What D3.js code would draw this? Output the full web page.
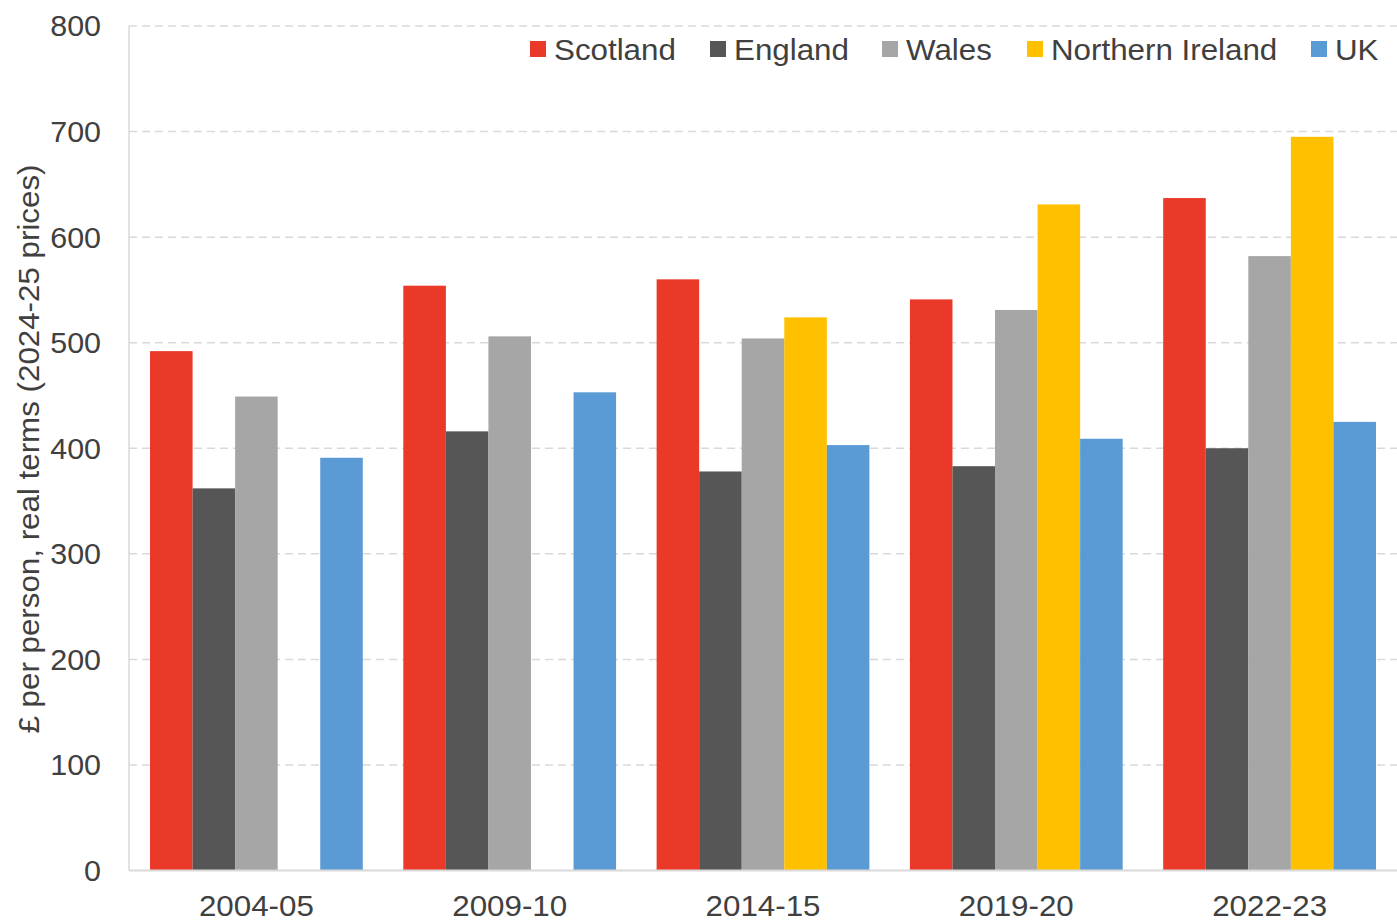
<!DOCTYPE html>
<html><head><meta charset="utf-8">
<script src="https://cdn.jsdelivr.net/npm/d3@7"></script>
<style>body{margin:0;background:#fff}text{font-family:"Liberation Sans",Arial,sans-serif}</style>
</head><body><svg id="c" width="1397" height="922"></svg>
<script>
const categories = ["2004-05","2009-10","2014-15","2019-20","2022-23"];
const seriesNames = ["Scotland","England","Wales","Northern Ireland","UK"];
const seriesColors = ["#EA3829","#565656","#A6A6A6","#FFC000","#5B9BD5"];
const scotland = [492,554,560,541,637];
const england = [362,416,378,383,400];
const wales = [449,506,504,531,582];
const northernIreland = [null,null,524,631,695];
const uk = [391,453,403,409,425];
const yTicks = [0,100,200,300,400,500,600,700,800];
const yTitle = "£ per person, real terms (2024-25 prices)";

const values = [scotland, england, wales, northernIreland, uk];
const svg = d3.select("#c");
const L = 129, R = 1397, T = 26, B = 870.5;
const FS = 29, SX = 1.08;
const x = d3.scaleBand().domain(categories).range([L, R]).paddingInner(0.16).paddingOuter(0.083);
const xs = d3.scaleBand().domain(seriesNames).range([0, x.bandwidth()]);
const y = d3.scaleLinear().domain([0, 800]).range([B, T]);

svg.append("g").selectAll("line").data(yTicks.filter(d => d > 0)).join("line")
  .attr("x1", L).attr("x2", R).attr("y1", d => y(d)).attr("y2", d => y(d))
  .attr("stroke", "#D9D9D9").attr("stroke-width", 1.5).attr("stroke-dasharray", "8,5");

const data = [];
categories.forEach((c, i) => seriesNames.forEach((s, j) => {
  const v = values[j][i];
  if (v != null) data.push({c, s, v, color: seriesColors[j]});
}));
svg.append("g").selectAll("rect").data(data).join("rect")
  .attr("x", d => x(d.c) + xs(d.s)).attr("width", xs.bandwidth())
  .attr("y", d => y(d.v)).attr("height", d => B - y(d.v))
  .attr("fill", d => d.color);

svg.append("line").attr("x1", L).attr("x2", L).attr("y1", T).attr("y2", B).attr("stroke", "#D9D9D9").attr("stroke-width", 1.5);
svg.append("line").attr("x1", L).attr("x2", R).attr("y1", B).attr("y2", B).attr("stroke", "#D9D9D9").attr("stroke-width", 2);

const yAxis = d3.axisLeft(y).tickValues(yTicks).tickSize(0).tickPadding(0);
const gy = svg.append("g").attr("transform", `translate(101,0)`).call(yAxis);
gy.select(".domain").remove();
gy.selectAll("text").attr("font-size", FS).attr("fill", "#404040").attr("x", 0).attr("dy", "0.34em")
  .attr("font-family", "Liberation Sans, Arial, sans-serif").attr("transform", "scale(1.05,1)");

const xAxis = d3.axisBottom(x).tickSize(0).tickPadding(0);
const gx = svg.append("g").attr("transform", `translate(0,916)`).call(xAxis);
gx.select(".domain").remove();
gx.selectAll("text").attr("font-size", FS).attr("fill", "#404040").attr("y", 0).attr("dy", 0)
  .attr("font-family", "Liberation Sans, Arial, sans-serif").attr("transform", `scale(${SX},1)`);

svg.append("text").attr("transform", `translate(39,449) rotate(-90) scale(${SX},1)`).attr("text-anchor", "middle")
  .attr("font-size", FS).attr("fill", "#404040").text(yTitle);

const legendX = [530, 710, 882, 1027, 1311];
const lg = svg.append("g").selectAll("g").data(seriesNames).join("g")
  .attr("transform", (d, i) => `translate(${legendX[i]},49)`);
lg.append("rect").attr("x", 0).attr("y", -8).attr("width", 16).attr("height", 16).attr("fill", (d, i) => seriesColors[i]);
lg.append("text").attr("transform", `translate(24,11) scale(${SX},1)`).attr("font-size", FS).attr("fill", "#404040").text(d => d);
</script></body></html>
